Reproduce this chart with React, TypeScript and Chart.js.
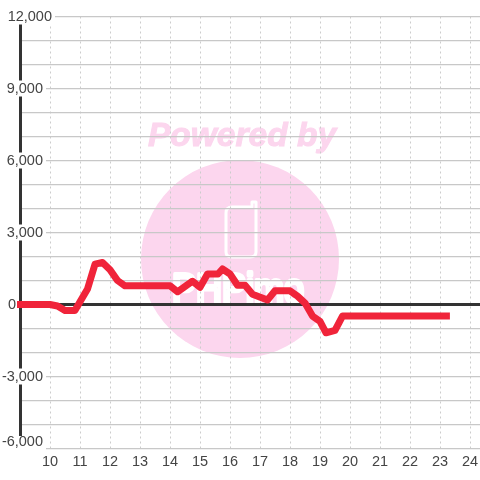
import React, { useEffect, useRef } from "react";
import { Chart, registerables } from "chart.js";

Chart.register(...registerables);

const hours = [8.9, 10, 10.25, 10.5, 10.83, 11.25, 11.5, 11.75, 12, 12.25, 12.5, 14, 14.25, 14.75, 15, 15.25, 15.6, 15.75, 16, 16.25, 16.5, 16.75, 17.25, 17.5, 18, 18.25, 18.5, 18.75, 19, 19.2, 19.5, 19.75, 23.33];
const values = [0, 0, -60, -250, -250, 650, 1680, 1750, 1450, 1000, 780, 780, 530, 970, 720, 1270, 1270, 1480, 1270, 800, 800, 430, 190, 570, 570, 350, 60, -480, -700, -1180, -1080, -480, -480];
const xTickValues = [9, 10, 11, 12, 13, 14, 15, 16, 17, 18, 19, 20, 21, 22, 23, 24];
const yGridValues = [-6000, -5000, -4000, -3000, -2000, -1000, 0, 1000, 2000, 3000, 4000, 5000, 6000, 7000, 8000, 9000, 10000, 11000, 12000];
const yLabels = ["12,000", "9,000", "6,000", "3,000", "0", "-3,000", "-6,000"];
const yLabelValues = [12000, 9000, 6000, 3000, 0, -3000, -6000];

const FONT = '14.5px "Liberation Sans"';

const watermark = {
  id: "watermark",
  beforeDraw(chart: any) {
    const { ctx } = chart;
    ctx.save();
    ctx.fillStyle = "#fcd6ee";
    ctx.beginPath();
    ctx.arc(240, 259, 99, 0, Math.PI * 2);
    ctx.fill();
    ctx.font = 'italic bold 33.5px "Liberation Sans"';
    ctx.textAlign = "left";
    ctx.textBaseline = "alphabetic";
    ctx.fillText("Powered by", 148, 146);
    ctx.strokeStyle = "#fcd6ee";
    ctx.lineWidth = 1;
    ctx.strokeText("Powered by", 148, 146);
    ctx.strokeStyle = "#ffffff";
    ctx.lineWidth = 3;
    ctx.lineJoin = "round";
    ctx.beginPath();
    ctx.moveTo(252, 207);
    ctx.lineTo(232, 207);
    ctx.quadraticCurveTo(226, 207, 226, 213);
    ctx.lineTo(226, 252);
    ctx.quadraticCurveTo(226, 257, 232, 257);
    ctx.lineTo(250, 257);
    ctx.quadraticCurveTo(256, 257, 256, 252);
    ctx.lineTo(256, 202);
    ctx.lineTo(252, 202);
    ctx.closePath();
    ctx.stroke();
    ctx.save();
    ctx.translate(172, 303);
    ctx.scale(1, 1.2);
    ctx.font = '36px "Liberation Sans"';
    ctx.lineWidth = 3.5;
    ctx.strokeText("PHPimo", 0, 0);
    ctx.restore();
    ctx.restore();
  },
};

const axes = {
  id: "axes",
  beforeDatasetsDraw(chart: any) {
    const { ctx, scales, chartArea } = chart;
    const zero = scales.y.getPixelForValue(0);
    ctx.save();
    ctx.strokeStyle = "#333333";
    ctx.lineWidth = 3;
    ctx.beginPath();
    ctx.moveTo(chartArea.left, zero);
    ctx.lineTo(chartArea.right, zero);
    ctx.stroke();
    ctx.beginPath();
    ctx.moveTo(scales.x.getPixelForValue(9) + 0.5, chartArea.top);
    ctx.lineTo(scales.x.getPixelForValue(9) + 0.5, chartArea.bottom);
    ctx.stroke();
    ctx.restore();
  },
  afterDatasetsDraw(chart: any) {
    const { ctx, scales } = chart;
    ctx.save();
    ctx.font = FONT;
    ctx.textBaseline = "middle";
    ctx.textAlign = "right";
    yLabels.forEach((label, i) => {
      const value = yLabelValues[i];
      const bottomLabel = value === -6000;
      const y = scales.y.getPixelForValue(value) - (bottomLabel ? 7 : 0);
      const w = ctx.measureText(label).width;
      const right = label === "12,000" ? 52 : label === "0" ? 16 : 43;
      ctx.fillStyle = "#ffffff";
      if (bottomLabel) ctx.fillRect(right - w - 1, 436, w + 4, 14);
      else if (label !== "0") ctx.fillRect(right - w - 1, y - 8, w + 4, 16);
      ctx.fillStyle = "#444444";
      ctx.fillText(label, right, y);
    });
    ctx.restore();
  },
};

export default function App() {
  const ref = useRef<HTMLCanvasElement>(null);
  useEffect(() => {
    document.body.style.margin = "0";
    const chart = new Chart(ref.current!, {
      type: "line",
      data: {
        datasets: [
          {
            data: hours.map((h, i) => ({ x: h, y: values[i] })),
            borderColor: "#f0243a",
            borderWidth: 7,
            borderJoinStyle: "round",
            pointRadius: 0,
            tension: 0,
            fill: false,
            clip: false,
          } as any,
        ],
      },
      options: {
        animation: false,
        responsive: false,
        devicePixelRatio: 1,
        layout: { padding: { top: 16.5, right: 0, left: 0, bottom: 0 } },
        plugins: { legend: { display: false }, tooltip: { enabled: false } },
        scales: {
          x: {
            type: "linear",
            min: 9,
            max: 24.3333,
            afterBuildTicks: (s: any) => {
              s.ticks = xTickValues.map((value) => ({ value }));
            },
            afterFit: (s: any) => {
              s.height = 31.5;
              s.paddingLeft = 0;
              s.paddingRight = 0;
            },
            border: { display: false, dash: [2, 3] },
            grid: {
              color: (c: any) => (c.tick && c.tick.value === 9 ? "rgba(0,0,0,0)" : "#cccccc"),
              lineWidth: 1,
              drawTicks: false,
            },
            ticks: {
              autoSkip: false,
              maxRotation: 0,
              padding: 5,
              color: "#444444",
              font: { family: "Liberation Sans", size: 14.5 },
              callback: (v: any) => (v === 9 ? "" : String(v)),
            },
          } as any,
          y: {
            min: -6000,
            max: 12000,
            afterBuildTicks: (s: any) => {
              s.ticks = yGridValues.map((value) => ({ value }));
            },
            afterFit: (s: any) => {
              s.width = 20;
            },
            border: { display: false },
            grid: { color: "#c8c8c8", lineWidth: 1.3, drawTicks: false },
            ticks: { display: false },
          } as any,
        },
      },
      plugins: [watermark, axes],
    } as any);
    return () => chart.destroy();
  }, []);
  return <canvas ref={ref} width={480} height={480} style={{ display: "block" }} />;
}
